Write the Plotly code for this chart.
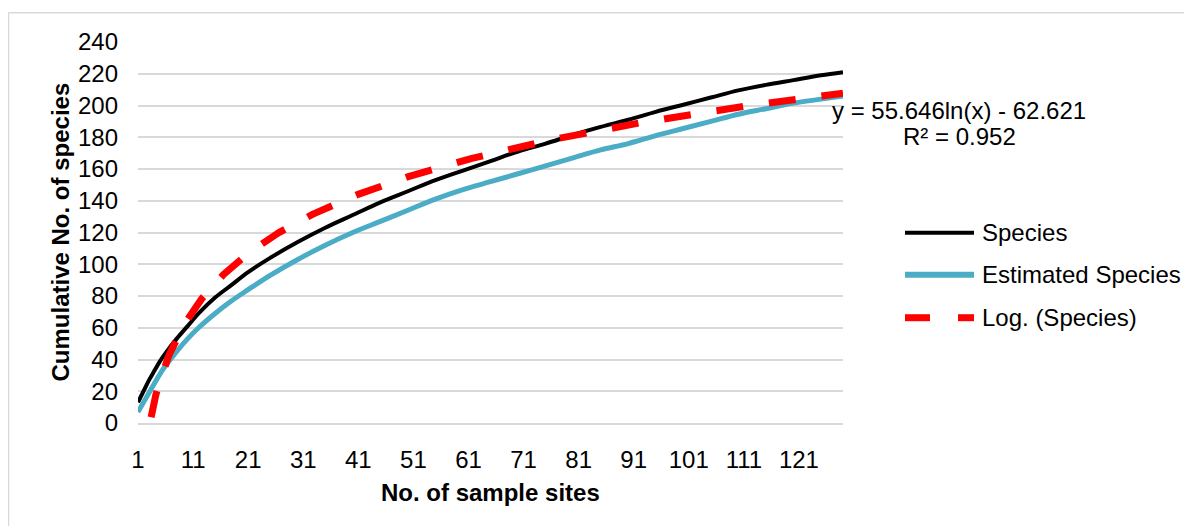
import numpy as np
import plotly.graph_objects as go

# ---- data ----
sites = [1, 2, 3, 4, 5, 6, 8, 10, 12, 15, 18, 21, 25, 30, 35, 40, 45, 50, 55, 60,
         65, 70, 75, 80, 85, 90, 95, 100, 105, 110, 115, 120, 125, 129]
species = [13, 20, 27, 33, 39, 44, 53, 61, 69, 79, 87, 95, 104, 114, 123, 131, 139, 146, 153, 159,
           165, 171, 176, 181.5, 186.5, 191, 196, 200.5, 205, 209.5, 213, 216, 219, 221]
estimated = [7, 13, 19, 25, 31, 36, 45, 53, 60, 69, 77, 84, 93, 103, 112, 120, 127, 134, 141, 147,
             152, 157, 162, 167, 172, 176, 181, 185.5, 190, 194.5, 198, 201.5, 204, 206]
# logarithmic trendline as stated on the chart
trend_a = 55.646
trend_b = -62.621
trend_r2 = 0.952
x_ticks = [1, 11, 21, 31, 41, 51, 61, 71, 81, 91, 101, 111, 121]
y_ticks = [0, 20, 40, 60, 80, 100, 120, 140, 160, 180, 200, 220, 240]
legend_names = ["Species", "Estimated Species", "Log. (Species)"]

trend_x = np.linspace(1, 129, 400)
trend_y = trend_a * np.log(trend_x) + trend_b

FONT = "Liberation Sans, Arial, sans-serif"
GRID = "#d9d9d9"
BLACK = "#000000"
BLUE = "#4bacc6"
RED = "#ff0000"

fig = go.Figure()
fig.add_trace(go.Scatter(x=sites, y=species, mode="lines", name=legend_names[0],
                         line=dict(color=BLACK, width=4, shape="spline", smoothing=1.0),
                         showlegend=False))
fig.add_trace(go.Scatter(x=sites, y=estimated, mode="lines", name=legend_names[1],
                         line=dict(color=BLUE, width=5, shape="spline", smoothing=1.0),
                         showlegend=False))
fig.add_trace(go.Scatter(x=trend_x, y=trend_y, mode="lines", name=legend_names[2],
                         line=dict(color=RED, width=7, dash="27px,26px"),
                         showlegend=False))

# the page body adds an 8px margin; work in page pixels and subtract it
OFF = 8
PAGE_W, PAGE_H = 1192, 526
W, H = PAGE_W - OFF, PAGE_H - OFF
# plot area in page pixels: x 138..843, y 42.3..423.3
L, R, T, B = 138 - OFF, 843 - OFF, 42.3 - OFF, 423.3 - OFF


def px(xp):
    return (xp - OFF - L) / (R - L)


def py(yp):
    return (B - (yp - OFF)) / (B - T)


shapes = []
# chart-area border (light grey), top and left edges visible
shapes.append(dict(type="line", xref="paper", yref="paper", x0=px(8.5), x1=px(1200), y0=py(13), y1=py(13),
                   line=dict(color=GRID, width=1.5)))
shapes.append(dict(type="line", xref="paper", yref="paper", x0=px(8.5), x1=px(8.5), y0=py(13), y1=py(540),
                   line=dict(color=GRID, width=1.5)))

# manual legend
leg_y = [233, 275, 318]
leg_cols = [BLACK, BLUE, RED]
leg_w = [4, 6, 7]
annotations = []
for i in range(3):
    if i < 2:
        shapes.append(dict(type="line", xref="paper", yref="paper", x0=px(905), x1=px(974),
                           y0=py(leg_y[i]), y1=py(leg_y[i]),
                           line=dict(color=leg_cols[i], width=leg_w[i])))
    else:
        for a, b in [(905, 930), (958, 974)]:
            shapes.append(dict(type="line", xref="paper", yref="paper", x0=px(a), x1=px(b),
                               y0=py(leg_y[i]), y1=py(leg_y[i]),
                               line=dict(color=leg_cols[i], width=leg_w[i])))
    annotations.append(dict(xref="paper", yref="paper", x=px(980), y=py(leg_y[i]), text=legend_names[i],
                            showarrow=False, xanchor="left", yanchor="middle",
                            font=dict(family=FONT, size=24, color="#000000")))

# trendline equation
annotations.append(dict(xref="paper", yref="paper", x=px(959), y=py(111),
                        text=f"y = {trend_a}ln(x) - {abs(trend_b)}", showarrow=False,
                        xanchor="center", yanchor="middle", font=dict(family=FONT, size=24, color="#000000")))
annotations.append(dict(xref="paper", yref="paper", x=px(960), y=py(137),
                        text=f"R² = {trend_r2}", showarrow=False,
                        xanchor="center", yanchor="middle", font=dict(family=FONT, size=24, color="#000000")))
# axis titles
annotations.append(dict(xref="paper", yref="paper", x=0.5, y=py(493),
                        text="<b>No. of sample sites</b>", showarrow=False,
                        xanchor="center", yanchor="middle", font=dict(family=FONT, size=24, color="#000000")))
annotations.append(dict(xref="paper", yref="paper", x=px(60), y=0.5, textangle=-90,
                        text="<b>Cumulative No. of species</b>", showarrow=False,
                        xanchor="center", yanchor="middle", font=dict(family=FONT, size=24, color="#000000")))

fig.update_layout(
    width=W, height=H,
    margin=dict(l=L, r=W - R, t=T, b=H - B, pad=0),
    paper_bgcolor="white", plot_bgcolor="white",
    font=dict(family=FONT, size=24, color="#000000"),
    shapes=shapes, annotations=annotations,
    showlegend=False,
)
fig.update_xaxes(range=[1, 129], tickvals=x_ticks, ticktext=[str(v) for v in x_ticks],
                 showgrid=False, zeroline=False, showline=True, linecolor=GRID, linewidth=1.5,
                 ticks="", ticklabelstandoff=14, tickfont=dict(family=FONT, size=24))
fig.update_yaxes(range=[0, 240], tickvals=y_ticks, showgrid=True, gridcolor=GRID, gridwidth=1.5,
                 zeroline=False, showline=False, ticks="", ticklabelstandoff=19,
                 tickfont=dict(family=FONT, size=24))

fig.write_html("out.html")
